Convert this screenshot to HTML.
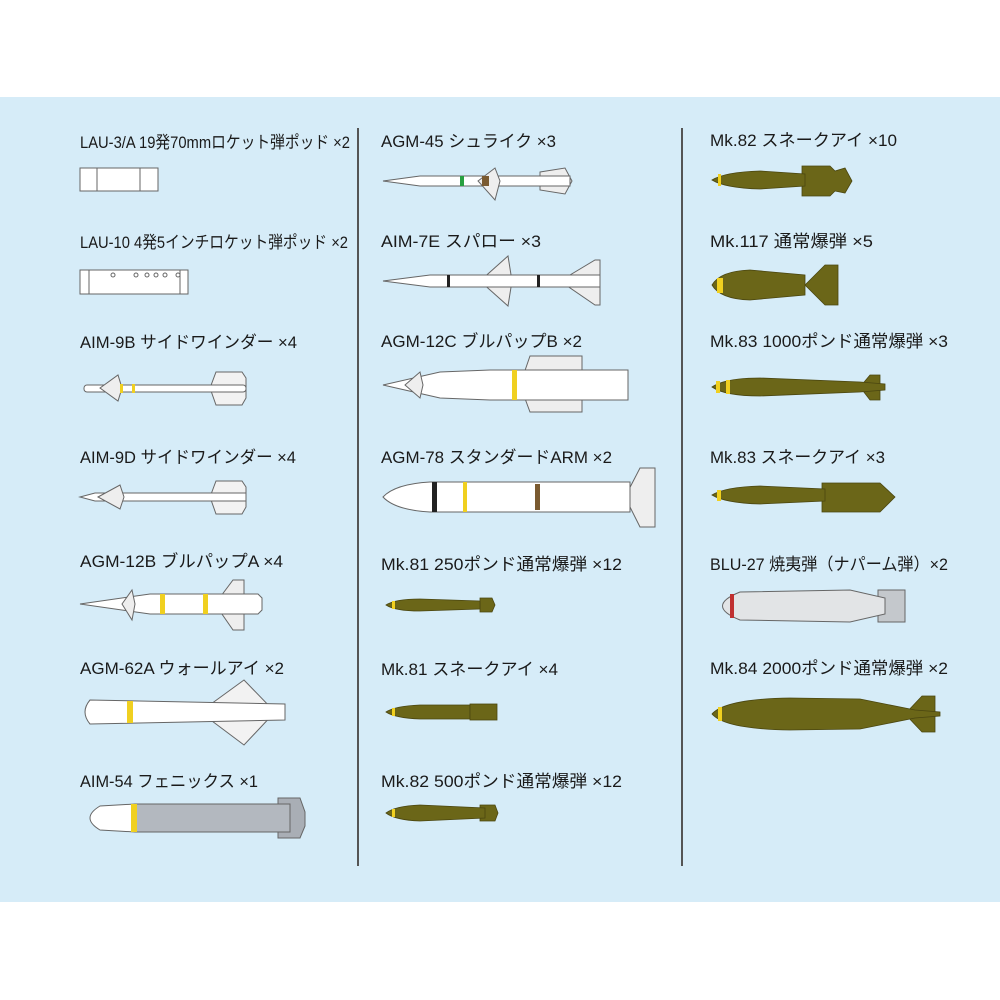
<!DOCTYPE html>
<html><head><meta charset="utf-8"><style>
html,body{margin:0;padding:0;background:#fff;}
svg{display:block}
text{font-family:"Liberation Sans","Noto Sans CJK JP",sans-serif;font-size:17px;fill:#1a1a1a;font-weight:normal}
</style></head><body>
<svg width="1000" height="1000" viewBox="0 0 1000 1000" xmlns="http://www.w3.org/2000/svg">
<rect x="0" y="97" width="1000" height="805" fill="#d6ecf8"/>
<line x1="358" y1="128" x2="358" y2="866" stroke="#555" stroke-width="2"/>
<line x1="682" y1="128" x2="682" y2="866" stroke="#555" stroke-width="2"/>

<g>
<text x="80" y="148" textLength="270" lengthAdjust="spacingAndGlyphs">LAU-3/A 19発70mmロケット弾ポッド ×2</text>
<text x="80" y="248" textLength="268" lengthAdjust="spacingAndGlyphs">LAU-10 4発5インチロケット弾ポッド ×2</text>
<text x="80" y="348" textLength="217" lengthAdjust="spacingAndGlyphs">AIM-9B サイドワインダー ×4</text>
<text x="80" y="463" textLength="216" lengthAdjust="spacingAndGlyphs">AIM-9D サイドワインダー ×4</text>
<text x="80" y="567" textLength="203" lengthAdjust="spacingAndGlyphs">AGM-12B ブルパップA ×4</text>
<text x="80" y="674" textLength="204" lengthAdjust="spacingAndGlyphs">AGM-62A ウォールアイ ×2</text>
<text x="80" y="787" textLength="178" lengthAdjust="spacingAndGlyphs">AIM-54 フェニックス ×1</text>
<text x="381" y="147" textLength="175" lengthAdjust="spacingAndGlyphs">AGM-45 シュライク ×3</text>
<text x="381" y="247" textLength="160" lengthAdjust="spacingAndGlyphs">AIM-7E スパロー ×3</text>
<text x="381" y="347" textLength="201" lengthAdjust="spacingAndGlyphs">AGM-12C ブルパップB ×2</text>
<text x="381" y="463" textLength="231" lengthAdjust="spacingAndGlyphs">AGM-78 スタンダードARM ×2</text>
<text x="381" y="570" textLength="241" lengthAdjust="spacingAndGlyphs">Mk.81 250ポンド通常爆弾 ×12</text>
<text x="381" y="675" textLength="177" lengthAdjust="spacingAndGlyphs">Mk.81 スネークアイ ×4</text>
<text x="381" y="787" textLength="241" lengthAdjust="spacingAndGlyphs">Mk.82 500ポンド通常爆弾 ×12</text>
<text x="710" y="146" textLength="187" lengthAdjust="spacingAndGlyphs">Mk.82 スネークアイ ×10</text>
<text x="710" y="247" textLength="163" lengthAdjust="spacingAndGlyphs">Mk.117 通常爆弾 ×5</text>
<text x="710" y="347" textLength="238" lengthAdjust="spacingAndGlyphs">Mk.83 1000ポンド通常爆弾 ×3</text>
<text x="710" y="463" textLength="175" lengthAdjust="spacingAndGlyphs">Mk.83 スネークアイ ×3</text>
<text x="710" y="570" textLength="238" lengthAdjust="spacingAndGlyphs">BLU-27 焼夷弾（ナパーム弾）×2</text>
<text x="710" y="674" textLength="238" lengthAdjust="spacingAndGlyphs">Mk.84 2000ポンド通常爆弾 ×2</text>
</g>

<g stroke="#666" stroke-width="1" fill="#fff">
<rect x="80" y="168" width="78" height="23"/>
<line x1="97" y1="168" x2="97" y2="191"/><line x1="140" y1="168" x2="140" y2="191"/>
<rect x="80" y="270" width="108" height="24"/>
<line x1="89" y1="270" x2="89" y2="294"/><line x1="180" y1="270" x2="180" y2="294"/>
<circle cx="113" cy="275" r="2"/><circle cx="136" cy="275" r="2"/><circle cx="147" cy="275" r="2"/><circle cx="156" cy="275" r="2"/><circle cx="165" cy="275" r="2"/><circle cx="178" cy="275" r="2"/>

<path d="M210 388 L216 372 L242 372 L246 378 L246 398 L242 405 L216 405 Z" fill="#f2f2f2"/>
<rect x="84" y="385" width="162" height="7" rx="3"/>
<path d="M100 388 L118 375 L122 388 L118 401 Z" fill="#eee"/>
<rect x="120" y="384" width="3" height="9" fill="#f0d020" stroke="none"/>
<rect x="132" y="384" width="3" height="9" fill="#f0d020" stroke="none"/>
<path d="M210 497 L216 481 L242 481 L246 487 L246 507 L242 514 L216 514 Z" fill="#f2f2f2"/>
<path d="M80 497 L95 493 L246 493 L246 501 L95 501 Z"/>
<path d="M98 497 L120 485 L124 497 L120 509 Z" fill="#eee"/>

<path d="M215 604 L233 580 L244 580 L244 630 L233 630 Z" fill="#eee"/>
<path d="M80 604 L150 594 L258 594 L262 598 L262 610 L258 614 L150 614 Z"/>
<path d="M122 604 L132 590 L135 604 L132 620 Z" fill="#eee"/>
<rect x="160" y="594" width="5" height="20" fill="#f0d020" stroke="none"/>
<rect x="203" y="594" width="5" height="20" fill="#f0d020" stroke="none"/>

<path d="M200 712 L244 680 L275 712 L244 745 Z" fill="#f2f2f2"/>
<path d="M90 700 L285 704 L285 720 L90 724 Q80 712 90 700 Z"/>
<rect x="127" y="701" width="6" height="22" fill="#f0d020" stroke="none"/>

<path d="M278 798 L300 798 L305 812 L305 826 L300 838 L278 838 Z" fill="#a9aeb5"/>
<path d="M135 804 L290 804 L290 832 L135 832 Z" fill="#b3b8bf"/>
<path d="M135 804 L100 806 Q80 818 100 830 L135 832 Z"/>
<rect x="131" y="804" width="6" height="28" fill="#f0d020" stroke="none"/>

<path d="M540 172 L565 168 L572 181 L565 194 L540 190 Z" fill="#eee"/>
<path d="M383 181 L420 176 L570 176 L570 186 L420 186 Z"/>
<path d="M478 181 L495 168 L500 181 L495 200 Z" fill="#eee"/>
<rect x="460" y="176" width="4" height="10" fill="#28a040" stroke="none"/>
<rect x="482" y="176" width="7" height="10" fill="#7a5a30" stroke="none"/>

<path d="M560 281 L595 260 L600 260 L600 305 L595 305 Z" fill="#eee"/>
<path d="M480 281 L508 256 L512 281 L508 306 Z" fill="#eee"/>
<path d="M383 281 L430 275 L600 275 L600 287 L430 287 Z"/>
<rect x="447" y="275" width="3" height="12" fill="#222" stroke="none"/>
<rect x="537" y="275" width="3" height="12" fill="#222" stroke="none"/>

<path d="M520 385 L530 356 L582 356 L582 412 L530 412 Z" fill="#eee"/>
<path d="M383 385 L440 372 L490 370 L628 370 L628 400 L490 400 L440 398 Z"/>
<path d="M405 385 L420 372 L423 385 L420 398 Z" fill="#eee"/>
<rect x="512" y="370" width="5" height="30" fill="#f0d020" stroke="none"/>

<path d="M625 497 L640 468 L655 468 L655 527 L640 527 Z" fill="#eee"/>
<path d="M383 497 Q395 484 430 482 L630 482 L630 512 L430 512 Q395 510 383 497 Z"/>
<rect x="432" y="482" width="5" height="30" fill="#222" stroke="none"/>
<rect x="463" y="482" width="4" height="30" fill="#f0d020" stroke="none"/>
<rect x="535" y="484" width="5" height="26" fill="#7a5a30" stroke="none"/>

<path d="M878 590 L905 590 L905 622 L878 622 Z" fill="#c4c8cc"/>
<path d="M740 592 L850 590 L885 598 L885 614 L850 622 L740 620 Q705 606 740 592 Z" fill="#e2e4e6"/>
<rect x="730" y="594" width="4" height="24" fill="#c03030" stroke="none"/>
</g>

<g fill="#6b6618" stroke="#4a4610" stroke-width="0.8">
<path d="M480 598 L492 598 L495 605 L492 612 L480 612 Z"/>
<path d="M386 605 Q395 599 420 599 L480 601 L480 609 L420 611 Q395 611 386 605 Z"/>
<path d="M386 712 Q395 706 420 705 L470 705 L470 719 L420 719 Q395 718 386 712 Z"/>
<rect x="470" y="704" width="27" height="16"/>
<path d="M480 805 L495 805 L498 813 L495 821 L480 821 Z"/>
<path d="M386 813 Q395 806 420 805 L485 808 L485 818 L420 821 Q395 820 386 813 Z"/>

<path d="M802 166 L830 166 L835 171 L845 168 L852 181 L845 193 L835 191 L830 196 L802 196 Z"/>
<path d="M712 180 Q725 172 760 171 L805 174 L805 186 L760 189 Q725 188 712 180 Z"/>
<path d="M805 285 L825 265 L838 265 L838 305 L825 305 Z"/>
<path d="M712 285 Q720 271 750 270 L805 275 L805 295 L750 300 Q720 299 712 285 Z"/>
<path d="M860 387 L870 375 L880 375 L880 400 L870 400 Z"/>
<path d="M712 387 Q725 378 760 378 L860 382 L885 384 L885 390 L860 392 L760 396 Q725 396 712 387 Z"/>
<path d="M822 483 L880 483 L895 497 L880 512 L822 512 Z"/>
<path d="M712 495 Q725 487 760 486 L825 489 L825 501 L760 504 Q725 503 712 495 Z"/>
<path d="M905 714 L922 696 L935 696 L935 732 L922 732 Z"/>
<path d="M712 714 Q725 699 790 698 L860 699 L915 710 L940 712 L940 716 L915 718 L860 729 L790 730 Q725 729 712 714 Z"/>
</g>
<g fill="#f0d020">
<rect x="718" y="174" width="3" height="12"/>
<rect x="717" y="278" width="6" height="15"/>
<rect x="716" y="381" width="4" height="12"/><rect x="726" y="380" width="4" height="14"/>
<rect x="717" y="490" width="4" height="11"/>
<rect x="392" y="601" width="3" height="8"/>
<rect x="392" y="708" width="3" height="8"/>
<rect x="392" y="809" width="3" height="8"/>
<rect x="718" y="707" width="4" height="14"/>
</g>
</svg>
</body></html>
